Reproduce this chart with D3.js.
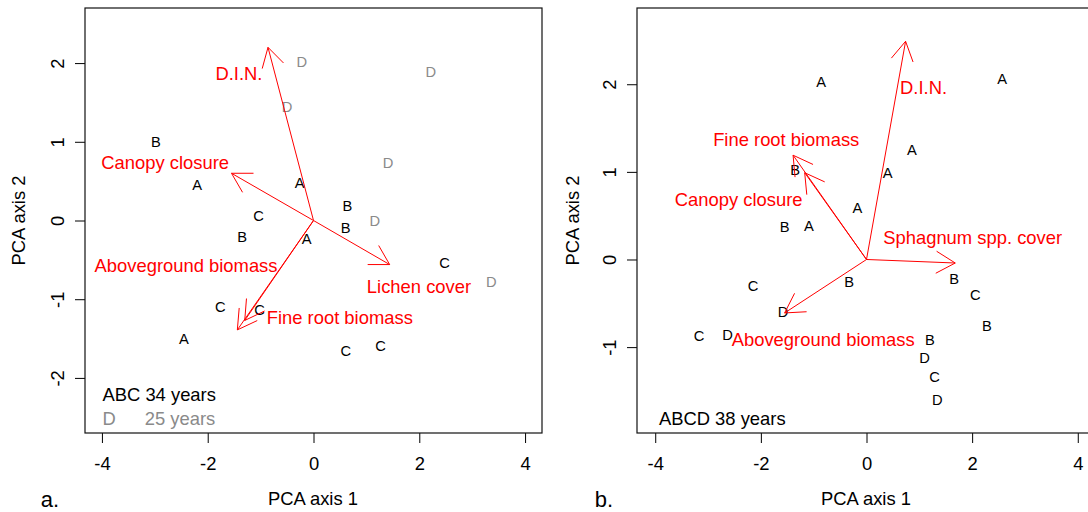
<!DOCTYPE html>
<html><head><meta charset="utf-8">
<script src="https://cdn.jsdelivr.net/npm/d3@7"></script>
<style>
body{margin:0;background:#fff}
svg{display:block}
text{font-family:"Liberation Sans",Arial,Helvetica,sans-serif}
</style>
</head><body>
<svg id="c" width="1088" height="512"></svg>
<script>
// ---- data ----
const xTicks = [-4, -2, 0, 2, 4];
const yTicksA = [-2, -1, 0, 1, 2];
const yTicksB = [-1, 0, 1, 2];

// Panel a: site scores (letter = stand)
const sitesA = [
  {g:"D", x:-0.22, y:2.02}, {g:"D", x:2.22, y:1.89}, {g:"D", x:-0.50, y:1.44},
  {g:"D", x:1.41, y:0.74}, {g:"D", x:1.16, y:0.00}, {g:"D", x:3.36, y:-0.78},
  {g:"B", x:-2.98, y:1.00}, {g:"A", x:-2.20, y:0.45}, {g:"A", x:-0.26, y:0.48},
  {g:"C", x:-1.04, y:0.06}, {g:"B", x:-1.35, y:-0.20}, {g:"B", x:0.64, y:0.19},
  {g:"B", x:0.61, y:-0.09}, {g:"A", x:-0.13, y:-0.23}, {g:"C", x:2.48, y:-0.53},
  {g:"C", x:-1.76, y:-1.10}, {g:"C", x:-1.02, y:-1.13}, {g:"A", x:-2.45, y:-1.50},
  {g:"C", x:0.61, y:-1.65}, {g:"C", x:1.27, y:-1.59}
];
// Panel a: variable loadings (arrow tips) and label centres
const arrowsA = [
  {name:"D.I.N.", x:-0.86, y:2.20, lx:-1.41, ly:1.875},
  {name:"Canopy closure", x:-1.55, y:0.60, lx:-2.805, ly:0.737},
  {name:"Aboveground biomass", x:-1.30, y:-1.27, lx:-2.41, ly:-0.568},
  {name:"Fine root biomass", x:-1.44, y:-1.39, lx:0.497, ly:-1.225},
  {name:"Lichen cover", x:1.44, y:-0.56, lx:1.994, ly:-0.831}
];
const legendA = [
  {t:"ABC 34 years", x:-3.99, y:-2.207, grey:false},
  {t:"D", x:-3.99, y:-2.516, grey:true},
  {t:"25 years", x:-3.19, y:-2.516, grey:true}
];

// Panel b
const sitesB = [
  {g:"A", x:-0.86, y:2.03}, {g:"A", x:2.57, y:2.06}, {g:"A", x:0.86, y:1.25},
  {g:"A", x:0.40, y:0.99}, {g:"A", x:-0.17, y:0.59}, {g:"A", x:-1.09, y:0.39},
  {g:"B", x:-1.35, y:1.02}, {g:"B", x:-1.55, y:0.37}, {g:"B", x:-0.33, y:-0.25},
  {g:"B", x:1.66, y:-0.22}, {g:"C", x:2.06, y:-0.40}, {g:"B", x:2.28, y:-0.76},
  {g:"B", x:1.20, y:-0.91}, {g:"D", x:1.10, y:-1.12}, {g:"C", x:1.29, y:-1.34},
  {g:"D", x:1.34, y:-1.60}, {g:"C", x:-2.15, y:-0.30}, {g:"D", x:-1.58, y:-0.60},
  {g:"C", x:-3.17, y:-0.87}, {g:"D", x:-2.63, y:-0.86}
];
const arrowsB = [
  {name:"D.I.N.", x:0.74, y:2.49, lx:1.08, ly:1.968},
  {name:"Fine root biomass", x:-1.39, y:1.19, lx:-1.52, ly:1.366},
  {name:"Canopy closure", x:-1.17, y:0.99, lx:-2.42, ly:0.691},
  {name:"Sphagnum spp. cover", x:1.68, y:-0.04, lx:2.01, ly:0.249},
  {name:"Aboveground biomass", x:-1.55, y:-0.61, lx:-0.82, ly:-0.912}
];
const legendB = [
  {t:"ABCD 38 years", x:-3.93, y:-1.809, grey:false}
];

// ---- drawing ----
const svg = d3.select("#c");
const RED = "#ff0000", GREY = "#8a8a8a";
const FS = 18.4, FSP = 14.7;
const fmt = d => String(d);

function panel(o){
  const g = svg.append("g");
  const x = d3.scaleLinear().domain(o.xd).range(o.xr);
  const y = d3.scaleLinear().domain(o.yd).range(o.yr);

  // axes
  const ax = g.append("g").attr("transform",`translate(0,${o.yr[0]})`)
    .call(d3.axisBottom(x).tickValues(xTicks).tickSize(10).tickPadding(14).tickFormat(fmt));
  ax.select(".domain").remove();
  ax.selectAll("text").attr("font-size",FS).attr("fill","#000").attr("font-family","Liberation Sans, Arial, sans-serif");
  ax.selectAll("line").attr("stroke","#000");

  const ay = g.append("g").attr("transform",`translate(${o.xr[0]},0)`)
    .call(d3.axisLeft(y).tickValues(o.yTicks).tickSize(10).tickFormat(fmt));
  ay.select(".domain").remove();
  ay.selectAll("line").attr("stroke","#000");
  ay.selectAll("text").attr("font-size",FS).attr("fill","#000")
    .attr("font-family","Liberation Sans, Arial, sans-serif")
    .attr("x",0).attr("dy","0.35em").attr("text-anchor","middle")
    .attr("transform","translate(-27,0) rotate(-90)");

  // box
  g.append("rect").attr("x",o.xr[0]).attr("y",o.yr[1])
    .attr("width",o.xr[1]-o.xr[0]).attr("height",o.yr[0]-o.yr[1])
    .attr("fill","none").attr("stroke","#111").attr("stroke-width",1.2);

  // titles
  const cy=(o.yr[0]+o.yr[1])/2;
  g.append("text").attr("x",o.xTitleX).attr("y",499).attr("dy","0.35em")
    .attr("text-anchor","middle").attr("font-size",FS).text("PCA axis 1");
  g.append("text").attr("transform",`translate(${o.yTitleX},${cy}) rotate(-90)`)
    .attr("dy","0.35em").attr("text-anchor","middle").attr("font-size",FS).text("PCA axis 2");
  g.append("text").attr("x",o.tagX).attr("y",499).attr("dy","0.35em")
    .attr("text-anchor","middle").attr("font-size",22).text(o.tag);

  // points
  g.selectAll("text.pt").data(o.sites).join("text").attr("class","pt")
    .attr("x",d=>x(d.x)).attr("y",d=>y(d.y)).attr("dy","0.36em")
    .attr("text-anchor","middle").attr("font-size",FSP)
    .attr("fill",d=>(o.greyD && d.g==="D")?GREY:"#000").text(d=>d.g);

  // arrows
  const x0=x(0), y0=y(0), L=22, ang=Math.PI/6;
  o.arrows.forEach(a=>{
    const tx=x(a.x), ty=y(a.y);
    g.append("line").attr("x1",x0).attr("y1",y0).attr("x2",tx).attr("y2",ty)
      .attr("stroke",RED).attr("stroke-width",1);
    const th=Math.atan2(y0-ty,x0-tx);
    [ang,-ang].forEach(s=>{
      g.append("line").attr("x1",tx).attr("y1",ty)
        .attr("x2",tx+L*Math.cos(th+s)).attr("y2",ty+L*Math.sin(th+s))
        .attr("stroke",RED).attr("stroke-width",1);
    });
    g.append("text").attr("x",x(a.lx)).attr("y",y(a.ly)).attr("dy","0.36em")
      .attr("text-anchor","middle").attr("font-size",FS).attr("fill",RED).text(a.name);
  });

  // legend
  o.legend.forEach(l=>{
    g.append("text").attr("x",x(l.x)).attr("y",y(l.y)).attr("dy","0.36em")
      .attr("font-size",FS).attr("fill",l.grey?GREY:"#000").text(l.t);
  });
}

panel({xd:[-4.32,4.32], yd:[-2.70,2.70], xr:[85,542], yr:[433,8],
  yTicks:yTicksA, sites:sitesA, arrows:arrowsA, legend:legendA, greyD:true,
  xTitleX:313, yTitleX:19, tag:"a.", tagX:50});
panel({xd:[-4.345,4.345], yd:[-1.98,2.87], xr:[637,1096], yr:[433,8],
  yTicks:yTicksB, sites:sitesB, arrows:arrowsB, legend:legendB, greyD:false,
  xTitleX:866, yTitleX:573, tag:"b.", tagX:604});
</script>
</body></html>
